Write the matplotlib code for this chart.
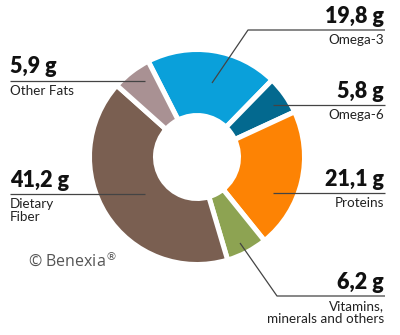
import matplotlib.pyplot as plt

# values (grams per 100 g)
labels = ["Omega-3", "Omega-6", "Proteins", "Vitamins,\nminerals and others", "Dietary\nFiber", "Other Fats"]
values = [19.8, 5.8, 21.1, 6.2, 41.2, 5.9]
value_text = ["19,8 g", "5,8 g", "21,1 g", "6,2 g", "41,2 g", "5,9 g"]
colors = ["#0aa0da", "#03698f", "#fd8304", "#8da352", "#7a5f51", "#a99193"]

W, H = 400, 335
fig = plt.figure(figsize=(4, 3.35), dpi=100)
ax = fig.add_axes([0, 0, 1, 1])

cx, cy = 197, H - 157
ax.pie(values, colors=colors, center=(cx, cy), radius=107.5, startangle=117,
       counterclock=False,
       wedgeprops=dict(width=66, edgecolor="white", linewidth=3.6))

ax.set_xlim(0, W)
ax.set_ylim(0, H)
ax.set_aspect("equal")
ax.axis("off")

fam = ["Lato", "DejaVu Sans"]
lc = "#444444"

# label layout: (side, number baseline y, rule y, leader points)
layout = [
    ("right", 23, 30, [(212, 83), (248, 30), (385, 30)]),
    ("right", 98, 105, [(273, 105), (385, 105)]),
    ("right", 186, 193, [(273, 193), (385, 193)]),
    ("right", 289, 296, [(240, 243), (277, 296), (385, 296)]),
    ("left", 187, 194, [(145, 194), (10, 194)]),
    ("left", 73, 81, [(145, 81), (10, 81)]),
]

for lab, vt, (side, ny, ly, pts) in zip(labels, value_text, layout):
    xs = [p[0] for p in pts]
    ys = [H - p[1] for p in pts]
    ax.plot(xs, ys, color=lc, lw=0.9, solid_capstyle="butt")
    if side == "right":
        tx, ha = 384, "right"
    else:
        tx, ha = 10, "left"
    ax.text(tx, H - ny, vt, ha=ha, va="baseline", fontsize=15.5,
            fontweight="heavy", family=fam, color="#111111")
    ax.text(tx, H - ly - 4, lab, ha=ha, va="top", fontsize=9.7,
            family=fam, color="#222222", linespacing=1.1,
            multialignment=ha)

ax.text(28, H - 260, "© Benexia$^{®}$", ha="left", va="center", fontsize=11.5,
        family=["Open Sans", "DejaVu Sans"], color="#555555")

fig.savefig("out.png", dpi=100)
